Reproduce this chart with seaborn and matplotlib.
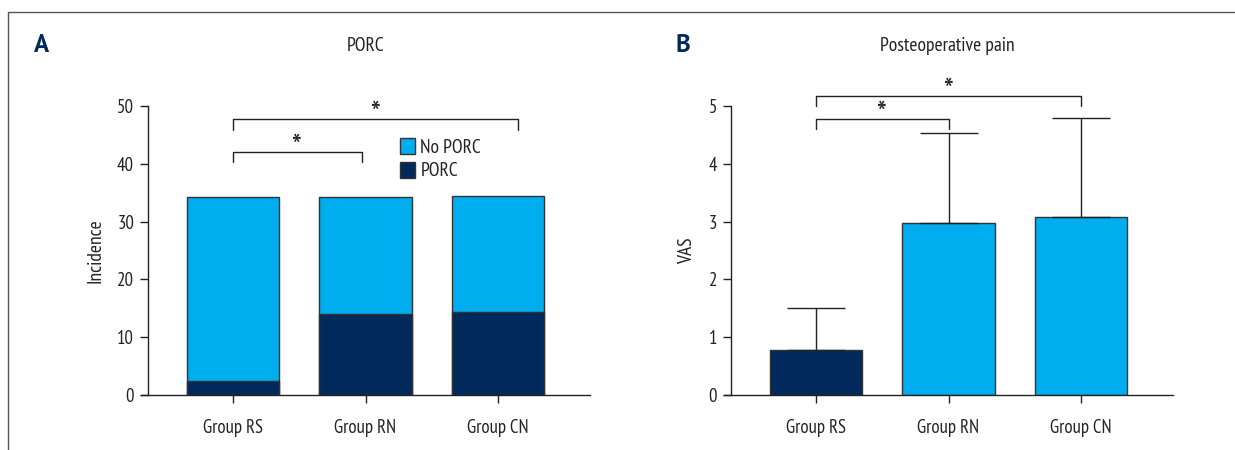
"""
PORC incidence and postoperative pain bar charts
"""

import numpy as np
import pandas as pd
import matplotlib
matplotlib.use('Agg')
import matplotlib.pyplot as plt
from matplotlib.patches import Patch
from matplotlib.lines import Line2D
import seaborn as sns

# data
GROUPS = ['Group RS', 'Group RN', 'Group CN']
porc = [2.5, 14.1, 14.4]
total = [34.3, 34.3, 34.4]
vas_mean = [0.77, 2.97, 3.08]
vas_sd = [0.73, 1.56, 1.72]

LIGHT = '#00AEEF'
NAVY = '#002A5C'
EDGE = '#333333'
INK = '#222222'

sns.set_theme(style='ticks')
plt.rcParams['font.family'] = ['PT Sans Narrow', 'DejaVu Sans']
plt.rcParams['axes.linewidth'] = 1.0

W, H = 1235, 450
fig = plt.figure(figsize=(W / 100, H / 100), dpi=100)


def px_axes(x0, x1, y0, y1):
    return fig.add_axes([x0 / W, 1 - y1 / H, (x1 - x0) / W, (y1 - y0) / H])


def style_axes(ax, ymax, yticks, spine_px, ax_left, ax_right):
    ax.set_xlim(-0.694, 2.694)
    ax.set_ylim(0, ymax)
    ax.set_yticks(yticks)
    for s in ['top', 'right']:
        ax.spines[s].set_visible(False)
    for s in ['left', 'bottom']:
        ax.spines[s].set_color(INK)
    ax.spines['left'].set_position(('axes', (spine_px - ax_left) / (ax_right - ax_left)))
    ax.tick_params(axis='both', labelsize=13.5, colors=INK, length=6, width=1)
    ax.tick_params(axis='x', pad=11)
    ax.tick_params(axis='y', pad=4)
    ax.set_xlabel('')


def bracket(ax, x0, x1, y, drop0, drop1):
    ax.plot([x0, x0, x1, x1], [y - drop0, y, y, y - drop1], color=INK, lw=1, clip_on=False)
    ax.annotate('*', ((x0 + x1) / 2, y), xytext=(0, -3.5), textcoords='offset points',
                ha='center', va='baseline', fontsize=24, color=INK, annotation_clip=False)


# ---- Panel A: stacked incidence ----
axA = px_axes(141, 590, 106, 395)
dfA = pd.DataFrame({'group': GROUPS, 'total': total, 'porc': porc})
sns.barplot(data=dfA, x='group', y='total', color=LIGHT, saturation=1, width=0.695,
            edgecolor=EDGE, linewidth=1, ax=axA)
sns.barplot(data=dfA, x='group', y='porc', color=NAVY, saturation=1, width=0.695,
            edgecolor=EDGE, linewidth=1, ax=axA)
style_axes(axA, 50, [0, 10, 20, 30, 40, 50], 148, 141, 590)
axA.set_ylabel('Incidence', fontsize=14, labelpad=9, color=INK)
bracket(axA, 0.0, 0.97, 42.0, 1.7, 1.7)
bracket(axA, 0.0, 2.15, 47.7, 1.9, 1.9)
legA = axA.legend(handles=[Patch(facecolor=LIGHT, edgecolor=EDGE, label='No PORC'),
                           Patch(facecolor=NAVY, edgecolor=EDGE, label='PORC')],
                  loc='upper left', bbox_to_anchor=((400 - 141) / 449, (395 - 138) / 289),
                  frameon=False, fontsize=14, handlelength=0.75, handleheight=0.9,
                  handletextpad=0.3, labelspacing=0.25, borderaxespad=0, borderpad=0)
for t in legA.get_texts():
    t.set_color(INK)

# ---- Panel B: VAS ----
axB = px_axes(724, 1173, 106, 395)
dfB = pd.DataFrame({'group': GROUPS, 'vas': vas_mean})
sns.barplot(data=dfB, x='group', y='vas', hue='group', palette=[NAVY, LIGHT, LIGHT],
            saturation=1, width=0.695, edgecolor=EDGE, linewidth=1, legend=False, ax=axB)
axB.errorbar(np.arange(len(GROUPS)), vas_mean, yerr=[np.zeros(3), vas_sd], fmt='none',
             ecolor=INK, elinewidth=1, capsize=21, capthick=1, zorder=1)
style_axes(axB, 5, [0, 1, 2, 3, 4, 5], 731, 724, 1173)
axB.set_ylabel('VAS', fontsize=14, labelpad=9, color=INK)
bracket(axB, 0.0, 1.0, 4.78, 0.18, 0.18)
bracket(axB, 0.0, 2.0, 5.17, 0.17, 0.17)

# titles and panel letters
fig.text(366 / W, 1 - 46 / H, 'PORC', ha='center', va='center', fontsize=14, color=INK)
fig.text(947 / W, 1 - 46 / H, 'Posteoperative pain', ha='center', va='center', fontsize=14,
         color=INK)
fig.text(42 / W, 1 - 46 / H, 'A', ha='center', va='center', fontsize=18, fontweight='bold',
         color=NAVY, family=['PT Sans', 'DejaVu Sans'])
fig.text(683 / W, 1 - 46 / H, 'B', ha='center', va='center', fontsize=18, fontweight='bold',
         color=NAVY, family=['PT Sans', 'DejaVu Sans'])

# outer frame (top and left)
fig.add_artist(Line2D([8 / W, 8 / W, 1], [0, 1 - 12 / H, 1 - 12 / H], color='#555555', lw=1,
                      transform=fig.transFigure))

fig.savefig('out.png', dpi=100)
